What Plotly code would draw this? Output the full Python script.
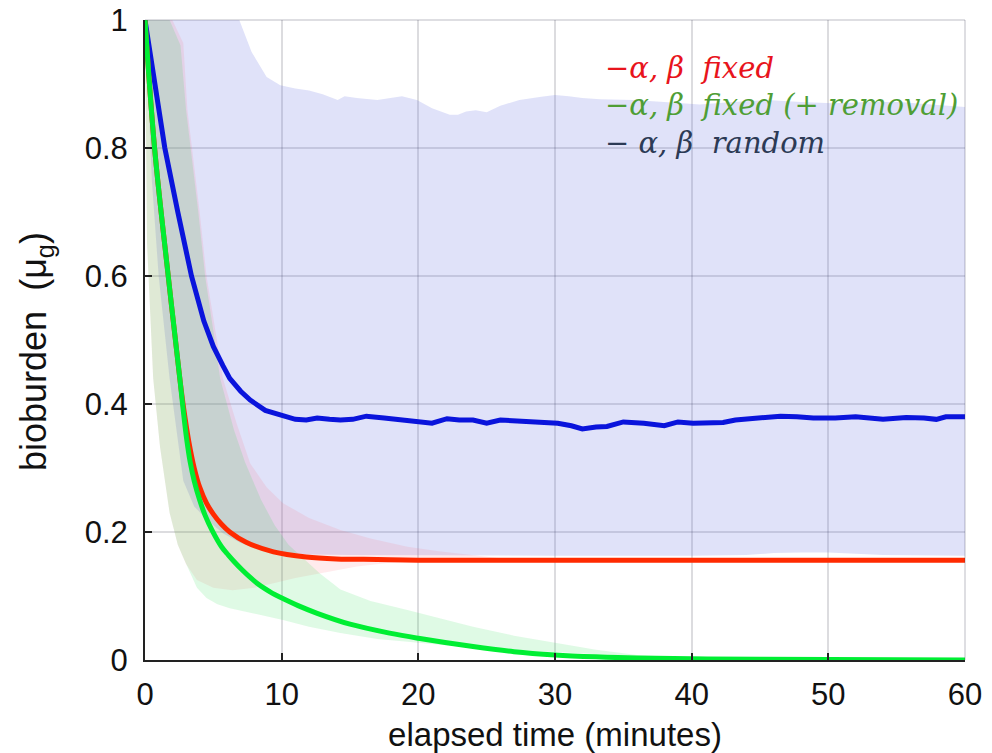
import plotly.graph_objects as go

# ---------------- data ----------------
blue_x = [0, 0.7, 1.45, 2.4, 3.4, 4.3, 5.0, 5.7, 6.2, 7.0, 7.7, 8.8, 9.9, 11, 11.8, 12.6, 13.5, 14.3,
          15.2, 16.2, 17.5, 18.8, 19.9, 21, 22.1, 23, 24, 25, 26, 27.5, 28.9, 30.2, 31.2, 32, 33,
          33.8, 35, 36.5, 38, 39, 40.1, 41.2, 42.3, 43.2, 44.5, 46.5, 47.7, 48.9, 50.5, 52, 54,
          55.7, 57, 57.9, 58.6, 60]
blue_y = [1.0, 0.9, 0.8, 0.7, 0.6, 0.53, 0.49, 0.46, 0.44, 0.42, 0.406, 0.39, 0.383, 0.376, 0.375,
          0.378, 0.376, 0.375, 0.376, 0.381, 0.378, 0.375, 0.372, 0.37, 0.377, 0.375, 0.375, 0.37,
          0.375, 0.373, 0.372, 0.37, 0.366, 0.361, 0.364, 0.365, 0.372, 0.37, 0.366, 0.372, 0.37,
          0.371, 0.371, 0.375, 0.377, 0.381, 0.38, 0.378, 0.378, 0.38, 0.376, 0.379, 0.378, 0.376,
          0.38, 0.38]

red_x = [0, 0.7, 1.7, 2.56, 2.85, 3.2, 3.6, 4.0, 4.5, 5.0, 5.6, 6.2, 7.4, 9.4, 11.8, 14, 17, 20, 60]
red_y = [1.0, 0.8, 0.6, 0.4375, 0.39, 0.342, 0.3, 0.27, 0.245, 0.228, 0.212, 0.2, 0.184, 0.169,
         0.161, 0.158, 0.157, 0.156, 0.156]

green_x = [0, 0.7, 1.7, 2.56, 2.8, 3.05, 3.3, 3.6, 4.0, 4.4, 4.9, 5.6, 6.1, 6.6, 7.1, 7.7, 8.2,
           8.8, 9.3, 9.9, 11.2, 12.6, 15, 17.9, 20, 24, 27, 30, 33, 36, 40, 45, 60]
green_y = [1.0, 0.8, 0.6, 0.4375, 0.39, 0.345, 0.31, 0.28, 0.25, 0.226, 0.203, 0.177, 0.164,
           0.152, 0.141, 0.129, 0.12, 0.111, 0.1045, 0.098, 0.085, 0.073, 0.056, 0.042, 0.034,
           0.021, 0.013, 0.008, 0.005, 0.003, 0.002, 0.001, 0.0]

# bands: upper / lower envelopes
blue_up_x = [0, 6.9, 7.8, 8.9, 9.9, 11, 12, 13, 14.1, 14.6, 15.5, 17, 18.8, 19.9, 21, 22.3, 22.9,
             23.5, 24.2, 25, 26, 27.4, 29, 30, 31, 32, 33.3, 35.7, 38, 40.6, 43, 45.5, 48, 50.3,
             53, 55.2, 57.5, 60]
blue_up_y = [1.0, 1.0, 0.95, 0.911, 0.898, 0.893, 0.89, 0.884, 0.875, 0.881, 0.878, 0.875, 0.881,
             0.875, 0.862, 0.852, 0.852, 0.857, 0.859, 0.856, 0.866, 0.875, 0.88, 0.883, 0.881,
             0.878, 0.876, 0.875, 0.872, 0.868, 0.872, 0.875, 0.872, 0.87, 0.872, 0.872, 0.868, 0.864]
blue_lo_x = [0, 0.5, 1.0, 1.8, 2.8, 3.6, 4.5, 5.7, 7, 8.5, 10, 12, 15, 20, 30, 40, 44, 46, 48, 50,
             52, 54, 60]
blue_lo_y = [1.0, 0.75, 0.6, 0.44, 0.28, 0.24, 0.22, 0.198, 0.183, 0.174, 0.168, 0.165, 0.164,
             0.163, 0.163, 0.163, 0.164, 0.167, 0.168, 0.168, 0.166, 0.164, 0.163]

red_up_x = [0, 2.0, 2.8, 3.1, 4, 4.5, 5.3, 5.7, 6.7, 7.7, 8.9, 10.1, 12, 14.3, 16.5, 19.2, 21.5,
            24, 26, 28, 60]
red_up_y = [1.0, 1.0, 0.964, 0.86, 0.7, 0.6, 0.495, 0.44, 0.37, 0.307, 0.27, 0.245, 0.222, 0.203,
            0.19, 0.177, 0.17, 0.164, 0.159, 0.157, 0.157]
red_lo_x = [0, 0.15, 0.6, 1.1, 1.8, 2.4, 3.0, 3.8, 5, 6.4, 8, 9.4, 11, 13, 15.5, 17.9, 20, 22, 60]
red_lo_y = [1.0, 0.65, 0.44, 0.333, 0.23, 0.18, 0.15, 0.125, 0.113, 0.109, 0.113, 0.12, 0.128,
            0.136, 0.146, 0.152, 0.155, 0.156, 0.156]

green_up_x = [0, 1.8, 2.6, 3.0, 3.9, 4.4, 5.1, 5.5, 6.5, 7.3, 8.5, 9.5, 10.5, 11.5, 12.8, 14.3,
              16.5, 19.2, 21.5, 24, 27, 30.1, 33, 36, 40, 45, 60]
green_up_y = [1.0, 1.0, 0.96, 0.86, 0.7, 0.6, 0.5, 0.44, 0.36, 0.31, 0.25, 0.21, 0.18, 0.16,
              0.135, 0.11, 0.092, 0.078, 0.065, 0.052, 0.038, 0.027, 0.016, 0.008, 0.003, 0.001, 0.0]
green_lo_x = [0, 0.15, 0.6, 1.1, 1.8, 2.4, 2.8, 3.2, 3.8, 4.5, 5.3, 6.2, 7, 8.5, 10.1, 12, 14.3,
              17, 19.9, 23, 26.5, 30.1, 34, 38, 42, 50, 60]
green_lo_y = [1.0, 0.65, 0.44, 0.333, 0.23, 0.18, 0.16, 0.14, 0.113, 0.097, 0.087, 0.081, 0.077,
              0.07, 0.0625, 0.052, 0.042, 0.033, 0.027, 0.021, 0.016, 0.0125, 0.008, 0.004, 0.002,
              0.0005, 0.0]

x_ticks = [0, 10, 20, 30, 40, 50, 60]
y_ticks = [0, 0.2, 0.4, 0.6, 0.8, 1]
y_tick_text = ["0", "0.2", "0.4", "0.6", "0.8", "1"]

legend_labels = ["−α, β\u00a0 fixed", "−α, β\u00a0 fixed (+ removal)", "− α, β\u00a0 random"]
legend_colors = ["#e8141c", "#4f9e35", "#2c3a55"]

x_title = "elapsed time (minutes)"
y_title = "bioburden\u00a0 (μ<sub>g</sub>)"

# ---------------- figure ----------------
fig = go.Figure()


def band(xu, yu, xl, yl, color):
    fig.add_trace(go.Scatter(
        x=list(xu) + list(xl)[::-1], y=list(yu) + list(yl)[::-1],
        fill="toself", fillcolor=color, mode="lines", line=dict(width=0),
        hoverinfo="skip", showlegend=False))


band(blue_up_x, blue_up_y, blue_lo_x, blue_lo_y, "rgba(100,110,225,0.2)")
band(red_up_x, red_up_y, red_lo_x, red_lo_y, "rgba(255,90,110,0.12)")
band(green_up_x, green_up_y, green_lo_x, green_lo_y, "rgba(40,220,80,0.15)")

fig.add_trace(go.Scatter(x=blue_x, y=blue_y, mode="lines",
                         line=dict(color="#0a14dc", width=5), showlegend=False))
fig.add_trace(go.Scatter(x=red_x, y=red_y, mode="lines", line_shape="spline",
                         line=dict(color="#ff2a00", width=5), showlegend=False))
fig.add_trace(go.Scatter(x=green_x, y=green_y, mode="lines", line_shape="spline",
                         line=dict(color="#00ee33", width=5), showlegend=False))

for i, (lab, col) in enumerate(zip(legend_labels, legend_colors)):
    fig.add_annotation(
        x=(603 - 145) / 820, y=1 - (68 + i * 37.5 - 20) / 640,
        xref="paper", yref="paper", xanchor="left", yanchor="middle",
        text="<i>" + lab + "</i>", showarrow=False,
        font=dict(family="DejaVu Serif", size=29, color=col))

tick_font = dict(family="Liberation Sans, Arial, sans-serif", size=31, color="#111111")
xtitle_font = dict(family="Liberation Sans, Arial, sans-serif", size=33, color="#111111")
ytitle_font = dict(family="Liberation Sans, Arial, sans-serif", size=36, color="#111111")

# y-axis title (placed as rotated text)
fig.add_annotation(
    x=(36 - 145) / 820, y=1 - (352 - 20) / 640, xref="paper", yref="paper",
    xanchor="center", yanchor="middle", textangle=-90, text=y_title,
    showarrow=False, font=ytitle_font)

# light frame on the top and right sides of the plot area
frame_col = "rgba(60,60,80,0.22)"
fig.add_shape(type="line", xref="paper", yref="paper", x0=0, x1=1, y0=1, y1=1,
              line=dict(color=frame_col, width=1.5))
fig.add_shape(type="line", xref="paper", yref="paper", x0=1, x1=1, y0=0, y1=1,
              line=dict(color=frame_col, width=1.5))

fig.update_layout(
    width=992, height=753,
    margin=dict(l=145, r=27, t=20, b=93),
    paper_bgcolor="white", plot_bgcolor="white",
    font=tick_font,
    xaxis=dict(
        range=[0, 60], tickvals=x_ticks, ticks="inside", ticklen=7, tickwidth=2,
        tickcolor="#222222", showline=True, linecolor="#222222", linewidth=2,
        showgrid=True, gridcolor="rgba(60,60,80,0.18)", gridwidth=1.5, zeroline=False,
        ticklabelstandoff=6, tickfont=tick_font, automargin=False,
        title=dict(text=x_title, font=xtitle_font, standoff=16)),
    yaxis=dict(
        range=[0, 1], tickvals=y_ticks, ticktext=y_tick_text, ticks="inside", ticklen=7,
        tickwidth=2, tickcolor="#222222", showline=True, linecolor="#222222", linewidth=2,
        showgrid=True, gridcolor="rgba(60,60,80,0.18)", gridwidth=1.5, zeroline=False,
        ticklabelstandoff=9, tickfont=tick_font, automargin=False),
)

fig.write_html("out.html")
